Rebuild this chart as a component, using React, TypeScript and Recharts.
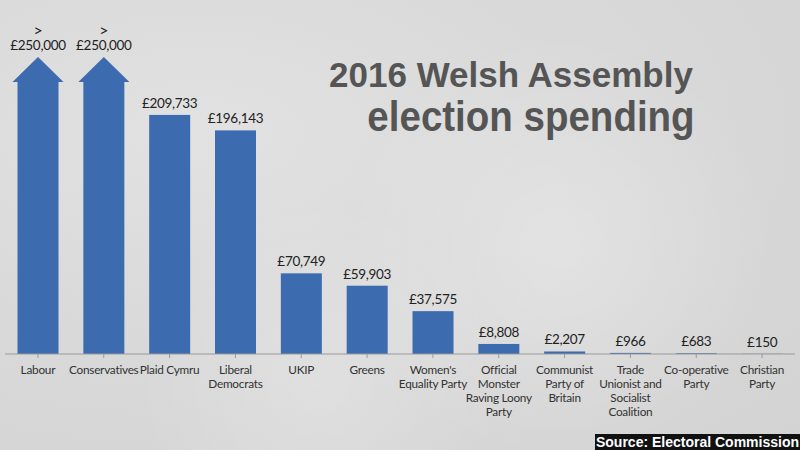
import React from "react";
import { BarChart, Bar, XAxis, YAxis, LabelList } from "recharts";

const parties = [
  "Labour",
  "Conservatives",
  "Plaid Cymru",
  "Liberal\nDemocrats",
  "UKIP",
  "Greens",
  "Women's\nEquality Party",
  "Official\nMonster\nRaving Loony\nParty",
  "Communist\nParty of\nBritain",
  "Trade\nUnionist and\nSocialist\nCoalition",
  "Co-operative\nParty",
  "Christian\nParty",
];
const spending = [250000, 250000, 209733, 196143, 70749, 59903, 37575, 8808, 2207, 966, 683, 150];
const aboveCap = [true, true, false, false, false, false, false, false, false, false, false, false];
const yTicks = [0, 250000];

const data = parties.map((p, i) => ({ party: p, spending: spending[i], above: aboveCap[i] }));

const BLUE = "#3c6bb0";
const LABEL_FONT = "Lato, 'Open Sans', sans-serif";
const TITLE_FONT = "'Liberation Sans', Arial, sans-serif";

const fmt = (v: number) => "£" + v.toLocaleString("en-GB");

const BarShape = (props: any) => {
  const { x, y, width, height, payload } = props;
  if (payload && payload.above) {
    const bottom = y + height;
    const shoulder = y + 13;
    const tip = y - 12;
    const d = `M${x},${bottom} L${x},${shoulder} L${x - 5},${shoulder} L${x + width / 2},${tip} L${x + width + 5},${shoulder} L${x + width},${shoulder} L${x + width},${bottom} Z`;
    return <path d={d} fill={BLUE} />;
  }
  return <rect x={x} y={y} width={width} height={Math.max(height, 0)} fill={BLUE} />;
};

const ValueLabel = (props: any) => {
  const { x, y, width, value, index } = props;
  const cx = x + width / 2;
  const common = {
    textAnchor: "middle" as const,
    dominantBaseline: "central" as const,
    fontFamily: LABEL_FONT,
    fontSize: 13.5,
    letterSpacing: -0.3,
    fill: "#222",
  };
  if (aboveCap[index]) {
    return (
      <g>
        <text x={cx} y={y - 40} {...common} fontSize={16}>
          &gt;
        </text>
        <text x={cx} y={y - 24} {...common}>
          {fmt(value)}
        </text>
      </g>
    );
  }
  return (
    <text x={cx} y={y - 12} {...common}>
      {fmt(value)}
    </text>
  );
};

const PartyTick = (props: any) => {
  const { x, y, payload } = props;
  const lines = String(payload.value).split("\n");
  return (
    <g>
      {lines.map((l, i) => (
        <text
          key={i}
          x={x}
          y={y + 9 + i * 14}
          textAnchor="middle"
          dominantBaseline="central"
          fontFamily={LABEL_FONT}
          fontSize={11.8}
          letterSpacing={-0.25}
          fill="#333"
        >
          {l}
        </text>
      ))}
    </g>
  );
};

export default function App() {
  return (
    <div
      style={{
        position: "absolute",
        left: 0,
        top: 0,
        width: 800,
        height: 450,
        overflow: "hidden",
        background:
          "radial-gradient(ellipse at 25% 30%, #e2e2e2 0%, #dadada 40%, #d3d3d3 100%)",
      }}
    >
      <div
        style={{
          position: "absolute",
          left: 0,
          top: 0,
          width: 800,
          height: 450,
          background:
            "radial-gradient(circle at 70% 55%, rgba(255,255,255,0.25) 0%, rgba(255,255,255,0) 35%), radial-gradient(circle at 40% 85%, rgba(255,255,255,0.2) 0%, rgba(255,255,255,0) 30%)",
        }}
      />
      <svg
        width={800}
        height={450}
        style={{ position: "absolute", left: 0, top: 0 }}
      >
        <text
          x={511}
          y={87}
          textAnchor="middle"
          fontFamily={TITLE_FONT}
          fontWeight={700}
          fontSize={35}
          fill="#555555"
        >
          2016 Welsh Assembly
        </text>
        <g transform="translate(531,131) scale(1,1.1)">
          <text
            x={0}
            y={0}
            textAnchor="middle"
            fontFamily={TITLE_FONT}
            fontWeight={700}
            fontSize={38.5}
            fill="#555555"
          >
            election spending
          </text>
        </g>
      </svg>
      <div style={{ position: "absolute", left: 0, top: 0 }}>
        <BarChart
          width={800}
          height={450}
          data={data}
          margin={{ top: 69, right: 5, bottom: 0, left: 5 }}
          barCategoryGap="19%"
        >
          <YAxis hide domain={[0, 250000]} ticks={yTicks} />
          <XAxis
            dataKey="party"
            height={96}
            interval={0}
            tick={<PartyTick />}
            axisLine={{ stroke: "#9a9a9a" }}
            tickLine={{ stroke: "#9a9a9a" }}
            tickSize={4}
          />
          <Bar dataKey="spending" shape={<BarShape />} isAnimationActive={false}>
            <LabelList dataKey="spending" content={<ValueLabel />} />
          </Bar>
        </BarChart>
      </div>
      <div
        style={{
          position: "absolute",
          left: 595,
          top: 434,
          width: 205,
          height: 16,
          background: "#111",
          color: "#fff",
          fontFamily: TITLE_FONT,
          fontWeight: 700,
          fontSize: 14,
          lineHeight: "16px",
          textAlign: "center",
          whiteSpace: "nowrap",
        }}
      >
        Source: Electoral Commission
      </div>
    </div>
  );
}
